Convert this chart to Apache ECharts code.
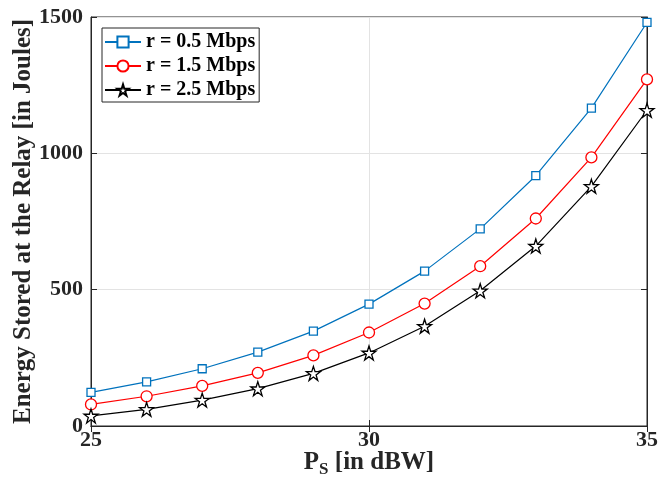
<!DOCTYPE html>
<html><head><meta charset="utf-8">
<script src="https://cdn.jsdelivr.net/npm/echarts@6/dist/echarts.min.js"></script>
<style>html,body{margin:0;padding:0;background:#fff}#c{width:661px;height:493px}</style>
</head><body><div id="c"></div>
<script>
const xValues = [25, 26, 27, 28, 29, 30, 31, 32, 33, 34, 35];
const seriesNames = ['r = 0.5 Mbps', 'r = 1.5 Mbps', 'r = 2.5 Mbps'];
const r05 = [123, 162, 210, 271, 348, 447, 568, 723, 918, 1166, 1480];
const r15 = [79, 109, 147, 195, 259, 343, 449, 586, 761, 985, 1271];
const r25 = [37, 61, 95, 137, 193, 268, 366, 496, 660, 879, 1158];
const xTicks = [25, 30, 35];
const yTicks = [0, 500, 1000, 1500];

const font = '"Liberation Serif", "Times New Roman", serif';
const star = 'path://M0,-1 L0.2245,-0.309 L0.951,-0.309 L0.363,0.118 L0.588,0.809 L0,0.382 L-0.588,0.809 L-0.363,0.118 L-0.951,-0.309 L-0.2245,-0.309 Z';
const colors = ['#0072BD', '#FF0000', '#000000'];
const symbols = ['rect', 'circle', star];
const sizes = [8, 11, 14];
const datas = [r05, r15, r25];

const chart = echarts.init(document.getElementById('c'), null, {renderer: 'canvas'});
const axisLineStyle = {color: '#262626', width: 1};
chart.setOption({
  animation: false,
  backgroundColor: '#fff',
  grid: {left: 91, right: 14, top: 17, bottom: 67, show: true, borderColor: '#262626', borderWidth: 1,
    containLabel: false, outerBoundsMode: 'none'},
  legend: {
    left: 102, top: 28, orient: 'vertical',
    backgroundColor: '#fff', borderColor: '#262626', borderWidth: 1,
    padding: [4, 4, 2, 2], itemGap: 4, itemWidth: 36, itemHeight: 14,
    textStyle: {fontFamily: font, fontWeight: 'bold', fontSize: 20, color: '#000'},
    data: seriesNames
  },
  xAxis: [{
    type: 'value', min: 25, max: 35, interval: 5,
    name: '{p|P}{s|S}{p| [in dBW]}', nameLocation: 'middle', nameGap: 21, nameMoveOverlap: false,
    nameTextStyle: {rich: {
      p: {fontFamily: font, fontWeight: 'bold', fontSize: 25, color: '#262626'},
      s: {fontFamily: font, fontWeight: 'bold', fontSize: 17, color: '#262626', padding: [14, 0, 0, 0]}
    }},
    axisLine: {show: true, lineStyle: axisLineStyle},
    axisTick: {show: true, inside: true, length: 6, lineStyle: axisLineStyle},
    axisLabel: {fontFamily: font, fontWeight: 'bold', fontSize: 22, color: '#262626', margin: 3,
      formatter: v => String(v)},
    splitLine: {show: true, lineStyle: {color: '#e3e3e3', width: 1}}
  }, {
    type: 'value', min: 25, max: 35, interval: 5, position: 'top',
    axisLine: {show: true, lineStyle: axisLineStyle},
    axisTick: {show: true, inside: true, length: 6, lineStyle: axisLineStyle},
    axisLabel: {show: false}, splitLine: {show: false}
  }],
  yAxis: [{
    type: 'value', min: 0, max: 1500, interval: 500,
    name: 'Energy Stored at the Relay [in Joules]', nameLocation: 'middle', nameGap: 55, nameMoveOverlap: false,
    nameTextStyle: {fontFamily: font, fontWeight: 'bold', fontSize: 25, color: '#262626'},
    axisLine: {show: true, lineStyle: axisLineStyle},
    axisTick: {show: true, inside: true, length: 6, lineStyle: axisLineStyle},
    axisLabel: {fontFamily: font, fontWeight: 'bold', fontSize: 22, color: '#262626', margin: 8,
      formatter: v => String(v)},
    splitLine: {show: true, lineStyle: {color: '#e3e3e3', width: 1}}
  }, {
    type: 'value', min: 0, max: 1500, interval: 500, position: 'right',
    axisLine: {show: true, lineStyle: axisLineStyle},
    axisTick: {show: true, inside: true, length: 6, lineStyle: axisLineStyle},
    axisLabel: {show: false}, splitLine: {show: false}
  }],
  series: seriesNames.map((n, i) => ({
    name: n, type: 'line', smooth: false,
    data: xValues.map((x, j) => [x, datas[i][j]]),
    symbol: symbols[i], symbolSize: sizes[i], showAllSymbol: true,
    lineStyle: {color: colors[i], width: 1.2},
    itemStyle: {color: '#ffffff', borderColor: colors[i], borderWidth: 1.3},
    emphasis: {disabled: true}
  }))
});
</script></body></html>
